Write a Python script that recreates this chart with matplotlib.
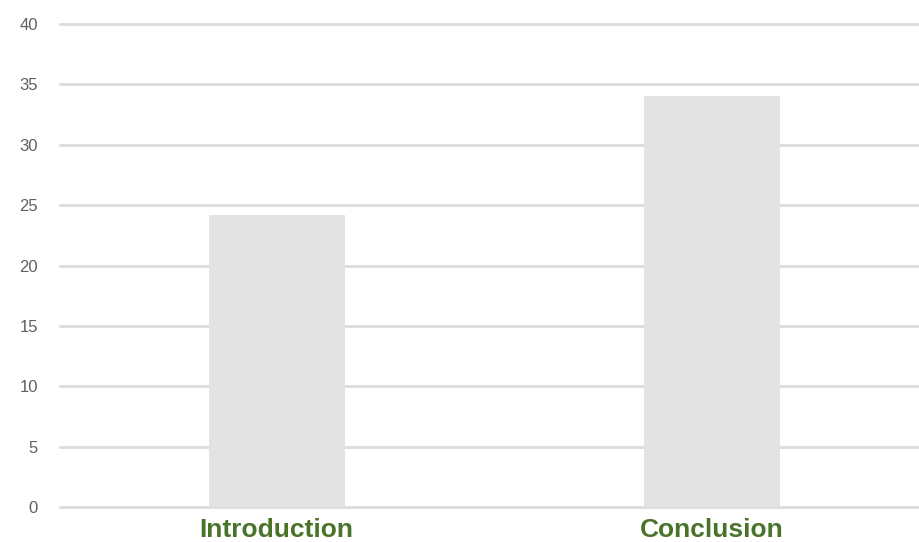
import matplotlib
matplotlib.use('Agg')
import matplotlib.pyplot as plt

categories = ['Introduction', 'Conclusion']
values = [24.2, 34.0]
yticks = [0, 5, 10, 15, 20, 25, 30, 35, 40]

plt.rcParams['font.family'] = ['Liberation Sans', 'DejaVu Sans']

fig = plt.figure(figsize=(9.2, 5.42), dpi=100)
ax = fig.add_axes([60 / 920, 35 / 542, 860 / 920, 483 / 542])

x = list(range(len(categories)))
ax.bar(x, values, width=0.313, color='#e3e3e3', zorder=2)

ax.set_ylim(0, 40)
ax.set_xlim(-0.498, 1.479)
ax.set_yticks(yticks)
ax.yaxis.grid(True, color='#dcdcdc', linewidth=2.0, zorder=0)
for gl in ax.get_ygridlines():
    gl.set_clip_on(False)
ax.set_axisbelow(True)
for s in ax.spines.values():
    s.set_visible(False)

ax.tick_params(axis='y', length=0, pad=16, labelsize=12, labelcolor='#606060')
ax.set_xticks(x)
ax.set_xticklabels(categories, fontsize=19, fontweight='bold', color='#4a732a')
ax.tick_params(axis='x', length=0, pad=8)

fig.savefig('out.png', dpi=100)
